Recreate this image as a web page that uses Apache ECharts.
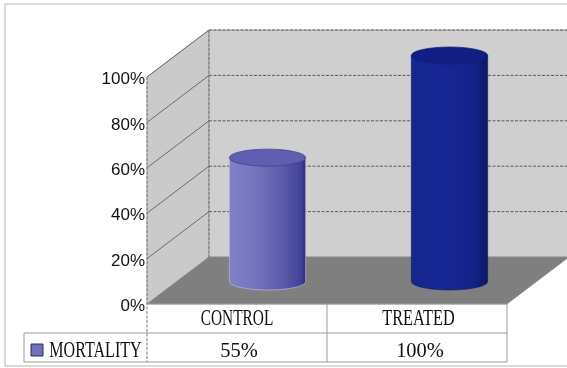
<!DOCTYPE html>
<html><head><meta charset="utf-8">
<style>html,body{margin:0;padding:0;background:#fff}#c{width:567px;height:368px}</style>
<script src="https://cdn.jsdelivr.net/npm/echarts@6/dist/echarts.min.js"></script>
</head><body><div id="c"></div>
<script>
const categories = ['CONTROL', 'TREATED'];
const mortality = [55, 100];
const valueLabels = ['55%', '100%'];
const seriesName = 'MORTALITY';
const yTicks = [0, 20, 40, 60, 80, 100];
const DX = 62, DY = -47, RY = 8.5;
const GRID = '#5c5c5c';
const dash = [3, 1.5];

const chart = echarts.init(document.getElementById('c'), null, {renderer: 'canvas'});

function poly(points, fill) {
  return {type: 'polygon', shape: {points}, style: {fill, stroke: '#8a8a8a', lineWidth: 0.6}};
}
function dl(x1, y1, x2, y2, color) {
  return {type: 'line', shape: {x1, y1, x2, y2},
    style: {stroke: color || GRID, lineWidth: 1, lineDash: dash, fill: null}};
}
function solid(x1, y1, x2, y2, color) {
  return {type: 'line', shape: {x1, y1, x2, y2}, style: {stroke: color || '#9a9a9a', lineWidth: 1, fill: null}};
}

function renderWalls(params, api) {
  const cs = params.coordSys;
  const L = cs.x, R = cs.x + cs.width;
  const y0 = api.coord([0, 0])[1], y100 = api.coord([0, 100])[1];
  const ch = [
    poly([[L, y0], [L, y100], [L + DX, y100 + DY], [L + DX, y0 + DY]], '#cacaca'),
    poly([[L + DX, y0 + DY], [L + DX, y100 + DY], [R + DX, y100 + DY], [R + DX, y0 + DY]], '#cfcfcf'),
    poly([[L, y0], [R, y0], [R + DX, y0 + DY], [L + DX, y0 + DY]], '#7f7f7f')
  ];
  yTicks.forEach(t => {
    const y = api.coord([0, t])[1];
    if (t > 0) {
      ch.push(solid(L, y, L + DX, y + DY, '#6a6a6a'));
      ch.push(dl(L + DX, y + DY, R + DX, y + DY));
    }
  });
  ch.push(dl(L + DX, y100 + DY, L + DX, y0 + DY, '#777'));
  return {type: 'group', children: ch};
}

function renderCylinder(params, api) {
  const idx = api.value(0), v = api.value(1);
  const top = api.coord([idx, v]), base = api.coord([idx, 0]);
  const cx = top[0] + DX / 2 + (idx ? 1.5 : -0.5), ty = top[1] + DY / 2 + 2, by = base[1] + DY / 2 + 1;
  const rx = api.size([1, 0])[0] * 0.212;
  const l = cx - rx, r = cx + rx;
  const light = idx === 0;
  const grad = new echarts.graphic.LinearGradient(0, 0, 1, 0, light ? [
    {offset: 0, color: '#8080c6'}, {offset: 0.3, color: '#7676bf'},
    {offset: 0.7, color: '#5a5aab'}, {offset: 0.93, color: '#42429a'}, {offset: 1, color: '#2c2c78'}
  ] : [
    {offset: 0, color: '#16268f'}, {offset: 0.4, color: '#162694'},
    {offset: 0.8, color: '#14228a'}, {offset: 1, color: '#0c1864'}
  ]);
  const body = `M${l} ${ty}L${l} ${by}A${rx} ${RY} 0 0 0 ${r} ${by}L${r} ${ty}Z`;
  const cap = `M${l} ${ty}A${rx} ${RY} 0 0 1 ${r} ${ty}A${rx} ${RY} 0 0 1 ${l} ${ty}Z`;
  return {type: 'group', children: [
    {type: 'path', shape: {pathData: body}, style: {fill: grad, stroke: light ? '#c4c4e2' : '#10195c', lineWidth: 0.6}},
    {type: 'path', shape: {pathData: cap}, style: {fill: light ? '#5f5fb2' : '#111f84', stroke: light ? '#3a3a80' : '#0e1a70', lineWidth: 0.7}}
  ]};
}

function renderTable(params, api) {
  const cs = params.coordSys;
  const L = cs.x, R = cs.x + cs.width, B = cs.y + cs.height;
  const mid = (L + R) / 2;
  const rowA = B + 29, rowB = B + 58, TL = 24;
  const ser = (text, x, y, size, sx) => ({type: 'text', x, y, scaleX: sx,
    style: {text, x: 0, y: 0, fill: '#111', align: 'center', verticalAlign: 'middle',
      fontFamily: 'Liberation Serif', fontSize: size}});
  const ch = [
    solid(L, B, R, B), solid(TL, rowA, R, rowA), solid(TL, rowB, R, rowB),
    solid(TL, rowA, TL, rowB), solid(mid, B, mid, rowB), solid(R, B, R, rowB),
    dl(L, cs.y, L, rowB, '#777'),
    {type: 'rect', shape: {x: 31, y: rowA + 11, width: 12, height: 12},
      style: {fill: '#7070bb', stroke: '#2b2b5c', lineWidth: 1}},
    ser(seriesName, 95.5, rowA + 18, 24, 0.67)
  ];
  categories.forEach((c, i) => {
    const x = api.coord([i, 0])[0];
    ch.push(ser(c, x + (i ? 1.5 : 0), B + 15, 24, i ? 0.68 : 0.64));
    ch.push(ser(valueLabels[i], x + (i ? 3 : 2), rowA + 18, 22, 0.93));
  });
  return {type: 'group', children: ch};
}

chart.setOption({
  animation: false,
  backgroundColor: '#ffffff',
  grid: {left: 147, right: 60, top: 77, bottom: 64, containLabel: false},
  xAxis: {type: 'category', data: categories, axisLine: {show: false},
    axisTick: {show: false}, axisLabel: {show: false}, splitLine: {show: false}},
  yAxis: {type: 'value', min: 0, max: 100, interval: 20,
    axisLine: {show: false}, axisTick: {show: false}, splitLine: {show: false},
    axisLabel: {formatter: '{value}%', color: '#111', margin: 2, verticalAlign: 'top', lineHeight: 5,
      fontFamily: 'Liberation Sans', fontSize: 17}},
  graphic: [{type: 'rect', silent: true, z: -1,
    shape: {x: 5, y: 4, width: 600, height: 362},
    style: {fill: null, stroke: '#b4b4b0', lineWidth: 1}}],
  series: [
    {type: 'custom', name: 'walls', silent: true, z: 1, data: [[0, 0]], renderItem: renderWalls},
    {type: 'custom', name: seriesName, silent: true, z: 2,
      data: mortality.map((v, i) => [i, v]), renderItem: renderCylinder},
    {type: 'custom', name: 'table', silent: true, z: 3, data: [[0, 0]], renderItem: renderTable}
  ]
});
</script></body></html>
